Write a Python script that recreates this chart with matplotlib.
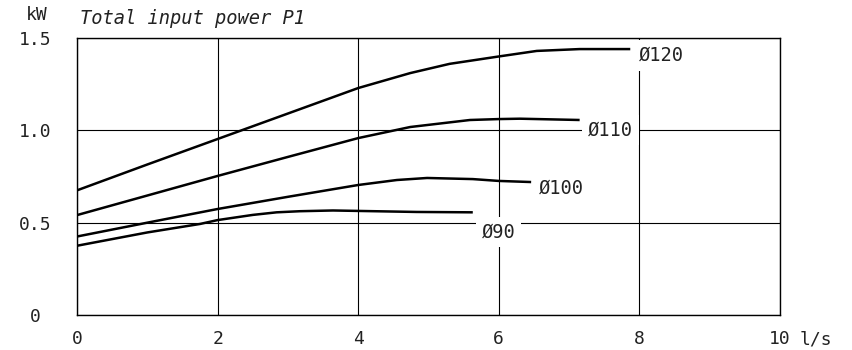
import numpy as np
import matplotlib
matplotlib.use("Agg")
import matplotlib.pyplot as plt

# flow (l/s) and power (kW)
x120 = [0, 1, 2, 3, 4, 4.74, 5.3, 6, 6.54, 7.15, 7.87]
p120 = [0.675, 0.815, 0.953, 1.091, 1.229, 1.31, 1.36, 1.40, 1.43, 1.44, 1.44]

x110 = [0, 1, 2, 3, 4, 4.74, 5.59, 6.0, 6.3, 7.15]
p110 = [0.541, 0.647, 0.753, 0.856, 0.958, 1.018, 1.056, 1.061, 1.063, 1.056]

x100 = [0, 1, 2, 3, 4, 4.55, 4.98, 5.63, 6, 6.46]
p100 = [0.425, 0.50, 0.574, 0.64, 0.704, 0.731, 0.742, 0.736, 0.726, 0.72]

x90 = [0, 1, 1.75, 2, 2.5, 2.84, 3.17, 3.64, 4.83, 5.63]
p90 = [0.375, 0.447, 0.493, 0.514, 0.542, 0.556, 0.562, 0.566, 0.558, 0.556]

curve_labels = ["Ø120", "Ø110", "Ø100", "Ø90"]
label_pos = [(7.99, 1.405), (7.27, 1.0), (6.57, 0.688), (5.76, 0.449)]

xticks = [0, 2, 4, 6, 8, 10]
xticklabels = ["0", "2", "4", "6", "8", "10"]
yticks = [0, 0.5, 1.0, 1.5]
yticklabels = ["0", "0.5", "1.0", "1.5"]

plt.rcParams['font.family'] = ['DejaVu Sans Mono']
txtcol = '#222222'

fig = plt.figure(figsize=(8.52, 3.5), dpi=100)
ax = fig.add_axes([77/852, 35/350, 703/852, 277/350])

for xs, ys in [(x120, p120), (x110, p110), (x100, p100), (x90, p90)]:
    ax.plot(xs, ys, color='black', lw=1.8, zorder=3, solid_capstyle='butt')

ax.set_xlim(0, 10)
ax.set_ylim(0, 1.5)
ax.set_xticks(xticks)
ax.set_xticklabels(xticklabels)
ax.set_yticks(yticks)
ax.set_yticklabels(yticklabels)
for lab in ax.get_yticklabels():
    lab.set_horizontalalignment('center')
ax.tick_params(axis='x', length=0, pad=11, labelsize=13, colors=txtcol)
ax.tick_params(axis='y', length=0, pad=30, labelsize=13, colors=txtcol)
ax.grid(True, color='black', lw=0.8)
ax.set_axisbelow(True)
for s in ax.spines.values():
    s.set_linewidth(1.0)

for txt, (lx, ly) in zip(curve_labels, label_pos):
    ax.text(lx, ly, txt, ha='left', va='center', fontsize=13.5, color=txtcol,
            zorder=4, bbox=dict(boxstyle='square,pad=0.3', fc='white', ec='none'))

fig.text(37/852, 1 - 15/350, "kW", ha='center', va='center', fontsize=13, color=txtcol)
fig.text(80/852, 1 - 18/350, "Total input power P1", ha='left', va='center',
         fontsize=13.5, style='italic', color=txtcol)
fig.text(800/852, 1 - 339/350, "l/s", ha='left', va='center', fontsize=13, color=txtcol)

fig.savefig("out.png", dpi=100)
